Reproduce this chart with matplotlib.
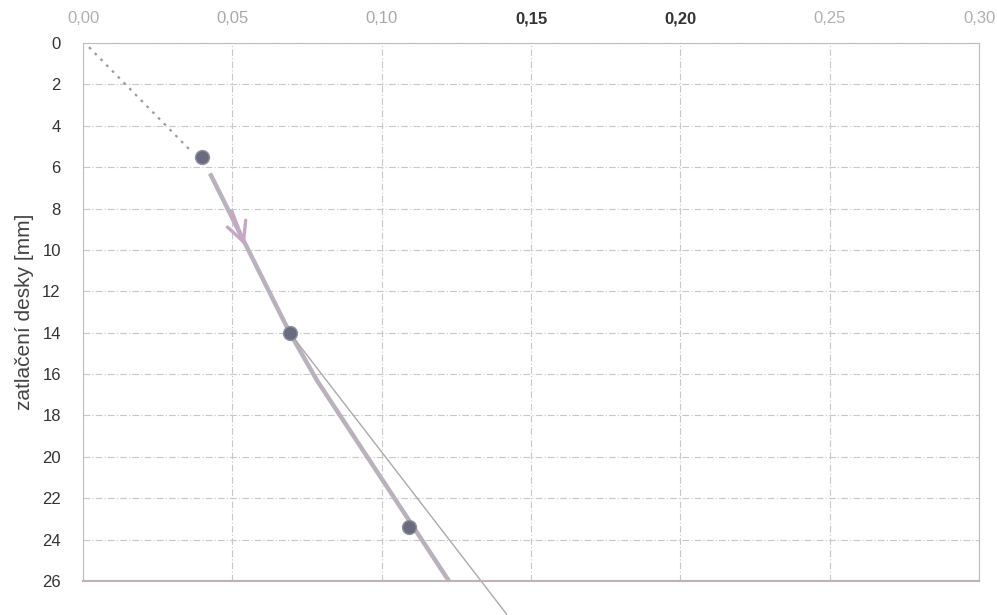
import matplotlib.pyplot as plt
import numpy as np

# measured points
pts_x = [0.0398, 0.0692, 0.109]
pts_y = [5.5, 14.0, 23.4]

# dotted start of the curve
dot_x = [0.002, 0.036]
dot_y = [0.2, 5.2]

# thick curve traced through the points
curve_x = [0.0425, 0.0692, 0.0783, 0.1225]
curve_y = [6.3, 14.0, 16.3, 26.0]

# thin tangent from the middle point
tan_x = [0.0692, 0.1418]
tan_y = [14.0, 27.6]

xticks = [0.00, 0.05, 0.10, 0.15, 0.20, 0.25, 0.30]
xlabels = ["0,00", "0,05", "0,10", "0,15", "0,20", "0,25", "0,30"]
xlabel_colors = ["#b0b0b0", "#a8a8a8", "#a8a8a8", "#333333", "#333333", "#b0b0b0", "#b0b0b0"]
xlabel_weights = ["normal", "normal", "normal", "bold", "bold", "normal", "normal"]
yticks = list(range(0, 27, 2))

plt.rcParams['font.family'] = ['Liberation Sans', 'DejaVu Sans']

fig = plt.figure(figsize=(9.97, 6.15), dpi=100)
ax = fig.add_axes([0.0833, 0.0553, 0.8987, 0.8747])

ax.set_xlim(0, 0.30)
ax.set_ylim(26, 0)

ax.plot(dot_x, dot_y, linestyle=(0, (1.2, 2.5)), color="#9a9a9a", lw=1.6)
ax.plot(curve_x, curve_y, color="#b9b2bd", lw=3.2, solid_capstyle="butt")
ax.plot(tan_x, tan_y, color="#aaaaaa", lw=1.0, clip_on=False)
ax.plot(pts_x, pts_y, 'o', color="#6b6b7e", ms=10, mec="#9090a2", mew=1, zorder=5)

# hand-drawn arrow on the curve
ax.annotate("", xy=(0.0545, 9.9), xytext=(0.0495, 8.0),
            arrowprops=dict(arrowstyle="->,head_length=1.4,head_width=0.7",
                            color="#c4a8c4", lw=2.4))

ax.xaxis.tick_top()
ax.set_xticks(xticks)
ax.set_xticklabels(xlabels, fontsize=12)
for lab, c, w in zip(ax.get_xticklabels(), xlabel_colors, xlabel_weights):
    lab.set_color(c)
    lab.set_fontweight(w)
ax.set_yticks(yticks)
ax.set_yticklabels([str(v) for v in yticks], fontsize=12, color="#333333")
ax.tick_params(axis="y", length=0, pad=16)
ax.tick_params(axis="x", length=0, pad=12)

ax.grid(True, color="#c8c8c8", linestyle=(0, (6, 2, 1, 2)), lw=0.8)
for s in ["left", "top", "right"]:
    ax.spines[s].set_color("#bdbdbd")
    ax.spines[s].set_linewidth(0.8)
ax.spines["bottom"].set_color("#c0b0b8")
ax.spines["bottom"].set_linewidth(1.5)

ax.set_ylabel("zatlačení desky [mm]", fontsize=15, color="#444444", labelpad=6)

fig.savefig("out.png", dpi=100)
